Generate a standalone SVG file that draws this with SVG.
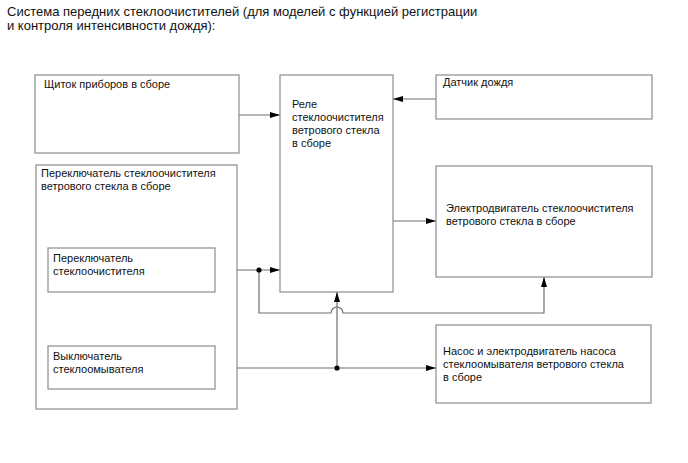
<svg xmlns="http://www.w3.org/2000/svg" width="688" height="463" viewBox="0 0 688 463">
<defs>
<style>
.box{fill:#fff;stroke:#8c8c8c;stroke-width:1.2}
.ln{fill:none;stroke:#6e6e6e;stroke-width:1.2}
.t{font-family:"Liberation Sans",Arial,sans-serif;font-size:11px;fill:#111}
.title{font-family:"Liberation Sans",Arial,sans-serif;font-size:13px;fill:#111}
.dot{fill:#000}
</style>
<marker id="ah" viewBox="0 0 10 6" refX="10" refY="3" markerWidth="10" markerHeight="6" markerUnits="userSpaceOnUse" orient="auto">
<path d="M0,0 L10,3 L0,6 Z" fill="#000"/>
</marker>
</defs>
<rect width="688" height="463" fill="#fff"/>
<g id="title">
<text class="title" x="7" y="16">Система передних стеклоочистителей (для моделей с функцией регистрации</text>
<text class="title" x="7" y="30">и контроля интенсивности дождя):</text>
</g>
<g id="connectors">
<line class="ln" x1="239" y1="115" x2="280" y2="115" marker-end="url(#ah)"/>
<line class="ln" x1="436" y1="99" x2="393" y2="99" marker-end="url(#ah)"/>
<line class="ln" x1="393" y1="221" x2="436" y2="221" marker-end="url(#ah)"/>
<line class="ln" x1="215" y1="270" x2="280" y2="270" marker-end="url(#ah)"/>
<path class="ln" d="M259,270 V313 H331 A6,6 0 0 1 343,313 H544 V277" marker-end="url(#ah)"/>
<line class="ln" x1="215" y1="368" x2="436" y2="368" marker-end="url(#ah)"/>
<line class="ln" x1="337" y1="368" x2="337" y2="292" marker-end="url(#ah)"/>
<circle class="dot" cx="259" cy="270" r="2.6"/>
<circle class="dot" cx="337" cy="368" r="2.6"/>
</g>
<g id="panel">
<rect class="box" x="35" y="75" width="204" height="78"/>
<text class="t" x="44" y="88">Щиток приборов в сборе</text>
</g>
<g id="relay">
<rect class="box" x="280" y="75" width="113" height="217"/>
<text class="t" x="292" y="108">Реле</text>
<text class="t" x="292" y="121">стеклоочистителя</text>
<text class="t" x="292" y="134">ветрового стекла</text>
<text class="t" x="292" y="147">в сборе</text>
</g>
<g id="rain-sensor">
<rect class="box" x="436" y="75" width="216" height="44"/>
<text class="t" x="443" y="86">Датчик дождя</text>
</g>
<g id="wiper-motor">
<rect class="box" x="436" y="166" width="216" height="111"/>
<text class="t" x="446" y="212">Электродвигатель стеклоочистителя</text>
<text class="t" x="446" y="225">ветрового стекла в сборе</text>
</g>
<g id="switch-assembly">
<rect class="box" x="36" y="165" width="201" height="244"/>
<text class="t" x="41" y="177">Переключатель стеклоочистителя</text>
<text class="t" x="41" y="190">ветрового стекла в сборе</text>
</g>
<g id="wiper-switch">
<rect class="box" x="48" y="248" width="167" height="44"/>
<text class="t" x="53" y="262">Переключатель</text>
<text class="t" x="53" y="275">стеклоочистителя</text>
</g>
<g id="washer-switch">
<rect class="box" x="48" y="346" width="167" height="43"/>
<text class="t" x="53" y="360">Выключатель</text>
<text class="t" x="53" y="373">стеклоомывателя</text>
</g>
<g id="washer-pump">
<rect class="box" x="436" y="325" width="215" height="78"/>
<text class="t" x="443" y="355">Насос и электродвигатель насоса</text>
<text class="t" x="443" y="368">стеклоомывателя ветрового стекла</text>
<text class="t" x="443" y="381">в сборе</text>
</g>
</svg>
